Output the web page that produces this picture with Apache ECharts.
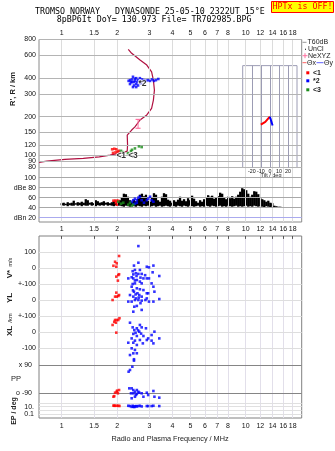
<!DOCTYPE html>
<html>
<head>
<meta charset="utf-8">
<script src="https://cdn.jsdelivr.net/npm/echarts@6/dist/echarts.min.js"></script>
<style>
html,body{margin:0;padding:0;background:#fff;}
#c{width:335px;height:451px;}
</style>
</head>
<body>
<div id="c"></div>
<script>
// ---- axis ticks ----
const freqTicks = [1, 1.5, 2, 3, 4, 5, 6, 7, 8, 10, 12, 14, 16, 18];
const freqTickLabels = ['1', '1.5', '2', '3', '4', '5', '6', '7', '8', '10', '12', '14', '16', '18'];
const heightTicks = [800, 600, 400, 300, 200, 150, 120, 100, 90, 80];
const dbTicks = [100, 80, 60, 40, 20];
const dbTickLabels = ['100', 'dBe 80', '60', '40', 'dBn 20'];
const velTicks = [100, 0, -100, -200, -300, -400, -500];
const velTickLabels = ['100', '0', '+-100', '0', '+-100', '0', '-100'];
const tiltTicks = [-20, -10, 0, 10, 20];
const ppTicks = [90, -90];
const ppTickLabels = ['x 90', 'o -90'];
const epTicks = [100, 10, 1, 0.1];
const epTickLabels = ['', '10.', '', '0.1'];

// stacked rows of the velocity panel (V*, YL, XL share one scale)
const ROW_V = 0, ROW_YL = -200, ROW_XL = -400;

// ---- electron density profile, [MHz, km] ----
const profile = [[0.753,87.7],[0.83,89.8],[1.04,92.6],[1.31,94.2],[1.6,97],[1.83,100],[2.03,103.1],[2.16,105],
  [2.27,107.5],[2.28,120],[2.27,143],[2.40,157],[2.50,166],[2.665,188],[2.90,206],[3.08,232],[3.15,269],
  [3.19,322],[3.15,385],[3.08,447],[2.90,505],[2.665,553],[2.40,624],[2.30,670]];
const neErrorBar = [[2.60,162],[2.60,190]];

// ---- echo virtual heights ----
const echo1Height = [[1.88,111],[1.93,112],[1.98,111],[1.90,104],[1.96,105],[2.01,106],[2.04,108]];
const echo2Height = [[2.31,380],[2.35,385],[2.35,359],[2.38,372],[2.41,390],[2.41,372],[2.44,409],[2.44,340],
  [2.47,372],[2.47,350],[2.50,380],[2.50,395],[2.54,399],[2.54,359],[2.54,340],[2.57,372],[2.60,385],[2.60,350],
  [2.66,399],[2.66,372],[2.70,365],[2.73,390],[2.80,385],[2.87,380],[2.94,385],[3.02,380],[3.10,390],[3.17,380],
  [3.25,385],[3.35,393]];
const echo3Height = [[2.10,108],[2.15,105.5],[2.29,103.7],[2.38,107.5],[2.41,110],[2.50,112.8],[2.63,117],[2.72,115.5]];
const echoTags = [{name:'<1', value:[2.106,98.6]}, {name:'*2', value:[2.75,361]}, {name:'<3', value:[2.44,98.3]}];

// ---- tilt, [deg, km] ----
const thetaX = [[-10,173],[-8,177],[-5,182],[-3,188],[-1,196],[0,199]];
const thetaY = [[0,199],[1,190],[2,180],[3,170]];

// ---- amplitudes, dB ----
const noiseStartMHz = 1.0, noiseStepLog = 0.0109;
const noiseHi = [49,50,48,51,49,50,54,49,51,50,52,50,57,55,50,51,49,55,53,50,51,53,50,51,49,51,53,50,52,55,
  60,68,67,62,55,52,56,53,58,66,68,63,66,54,52,60,69,66,55,52,62,69,67,56,54,50,55,52,56,62,
  54,57,53,59,55,64,58,53,50,55,52,57,60,65,62,64,58,60,63,70,68,60,57,62,59,63,58,62,66,72,
  79,77,75,68,62,66,73,72,67,60,57,55,52,54,50,49,44,43,42,42];
const noiseLo = [45,44,45,43,45,44,44,46,44,45,43,45,44,44,46,44,45,43,45,44,45,44,46,44,45,44,43,45,44,44,
  43,42,44,43,42,44,43,42,44,43,42,44,43,44,42,43,44,42,43,44,42,43,44,43,42,44,43,42,44,43,
  42,44,43,42,44,43,42,43,44,42,43,42,44,43,42,44,43,42,43,44,42,43,42,44,43,42,43,44,42,43,
  42,43,44,42,43,42,44,43,42,43,42,41,43,42,41,42,40,40,40,41];
const echo1Db = [[1.91,54],[1.95,54],[1.99,54],[2.03,54],[1.97,50],[1.99,46]];
const echo2Db = [[2.40,52],[2.45,55],[2.50,58],[2.56,55],[2.61,60],[2.66,62],[2.72,55],[2.56,50],[2.50,48],
  [2.90,55],[2.95,58],[3.02,62],[3.08,55],[3.15,52],[2.80,50],[2.45,47]];
const echo3Db = [[2.03,52],[2.10,48],[2.16,50],[2.30,46],[2.40,44],[2.45,46],[2.35,50]];

// ---- velocities, m/s, and spatial offsets, km ----
const echo1V = [[2.05,75],[1.95,39],[1.99,29],[1.91,14],[1.98,8],[2.03,-44],[1.98,-54],[2.05,-39],[2.02,-79]];
const echo1YL = [[1.98,46],[2.05,31],[1.99,21],[1.95,21],[2.03,25],[1.89,0]];
const echo1XL = [[1.95,75],[1.99,75],[2.03,75],[2.06,86],[1.93,64],[1.89,44],[1.97,58],[1.98,-4]];
const echo2V = [[2.61,137],[2.47,15],[2.61,33],[2.90,8],[2.98,4],[3.15,15],[2.50,-12],[2.66,-12],[2.53,-33],
  [2.40,-58],[2.45,-65],[2.61,-37],[2.72,-37],[2.78,-65],[2.90,-65],[2.98,-65],[3.12,-27],[3.39,-50],
  [2.30,-65],[2.56,-75],[2.66,-85],[2.45,-40],[2.55,-50],[2.68,-60],[2.50,-78],[2.43,-20],[2.84,-45]];
const echo2YL = [[2.43,100],[2.50,104],[2.72,104],[3.08,104],[3.15,83],[2.40,83],[2.56,73],[2.66,67],[2.78,62],
  [2.90,42],[2.47,52],[2.58,42],[2.35,31],[2.45,21],[2.53,10],[2.64,31],[2.72,21],[2.95,42],[3.19,52],
  [2.30,-10],[2.40,-10],[2.50,0],[2.61,0],[2.72,-4],[2.90,10],[2.98,-10],[3.15,-10],[3.39,6],[2.48,-42],
  [2.56,-37],[2.72,-62],[2.45,-73],[2.52,35],[2.62,15],[2.44,60],[2.68,-20],[2.85,0]];
const echo2XL = [[2.35,58],[2.43,29],[2.48,12],[2.56,23],[2.66,44],[2.72,29],[2.87,23],[2.64,2],[2.45,-12],
  [2.56,-25],[2.78,-25],[2.95,-40],[3.08,-19],[3.19,2],[2.40,-40],[2.50,-54],[2.66,-50],[2.90,-50],
  [2.30,-67],[2.45,-67],[2.56,-81],[2.76,-71],[3.15,-71],[3.08,-54],[3.39,-40],[2.40,-102],[2.50,-112],
  [2.56,-133],[2.35,-144],[2.60,10],[2.52,-5],[2.70,-10]];

// ---- polarization and ellipticity, deg ----
const echo1PP = [[1.91,-114],[1.93,-110],[1.95,-88],[1.99,-82],[2.00,-75],[2.02,-92],[2.05,-71]];
const echo1EP = [[1.91,20],[1.93,18],[1.95,18],[1.99,18],[2.03,18],[2.06,16]];
const echo2PP = [[2.33,-60],[2.40,-60],[2.45,-71],[2.50,-82],[2.38,-92],[2.45,-92],[2.56,-96],[2.64,-88],
  [2.72,-92],[2.90,-88],[2.95,-103],[3.15,-77],[3.19,-114],[3.39,-120],[2.50,-114],[2.40,-124],[2.78,-114],
  [2.53,-103],[2.61,-82],[2.56,-71],[2.45,165],[2.47,127],[2.42,79],[2.35,58],[2.31,47],[2.47,118]];
const echo2EP = [[2.30,18],[2.35,15],[2.43,18],[2.50,12],[2.56,12],[2.61,15],[2.66,18],[2.72,12],[2.90,15],
  [2.95,15],[3.08,15],[3.15,18],[3.39,15],[2.45,10],[2.53,15],[2.40,9],[2.48,8]];

// ---- drawing ----
const F_MIN = 0.7526, F_MAX = 20.15;
const LEFT = 39, WIDTH = 262.7;
const TXT = 'Liberation Sans, Arial, sans-serif';
const RED = '#ff0000', BLUE = '#0000ff', GREEN = '#1a8c1a';

const chart = echarts.init(document.getElementById('c'), null, {renderer: 'canvas', width: 335, height: 451});

const grids = [
  {left: LEFT, top: 39.5, width: WIDTH, height: 182.5, show: true, borderColor: '#8a8a8a', borderWidth: 1}, // 0 upper box
  {left: LEFT, top: 39.5, width: WIDTH, height: 128},                                                    // 1 height
  {left: LEFT, top: 177.7, width: WIDTH, height: 44.3},                                                  // 2 amplitude
  {left: 242.7, top: 65.63, width: 54.3, height: 101.87, show: true, borderColor: '#9c9cb4', borderWidth: 1}, // 3 tilt
  {left: LEFT, top: 236, width: WIDTH, height: 182, show: true, borderColor: '#808080', borderWidth: 1}, // 4 lower box
  {left: LEFT, top: 236, width: WIDTH, height: 122},                                                     // 5 velocity
  {left: LEFT, top: 349, width: WIDTH, height: 50},                                                      // 6 PP
  {left: LEFT, top: 399, width: WIDTH, height: 19}                                                       // 7 EP
];
const logF = g => ({type: 'log', logBase: 10, gridIndex: g, min: F_MIN, max: F_MAX, show: false});
const xAxes = [logF(0), logF(1), logF(2), {type: 'value', gridIndex: 3, min: -30, max: 30, show: false},
  logF(4), logF(5), logF(6), logF(7)];
const yAxes = [
  {type: 'value', gridIndex: 0, min: 0, max: 1, show: false},
  {type: 'log', logBase: 10, gridIndex: 1, min: 80, max: 800, show: false},
  {type: 'value', gridIndex: 2, min: 11.4, max: 100, show: false},
  {type: 'log', logBase: 10, gridIndex: 3, min: 80, max: 500, show: false},
  {type: 'value', gridIndex: 4, min: 0, max: 1, show: false},
  {type: 'value', gridIndex: 5, min: -562.5, max: 200, show: false},
  {type: 'value', gridIndex: 6, min: -128.57, max: 192.86, show: false},
  {type: 'log', logBase: 10, gridIndex: 7, min: 0.00802, max: 1287.6, show: false}
];

const tickFont = {fontFamily: TXT, fontSize: 7, color: '#111'};
function gridLines(g, key, values, labels, color, pos, dist, fontSize) {
  return {
    type: 'line', xAxisIndex: g, yAxisIndex: g, data: [], silent: true, z: 1,
    markLine: {
      silent: true, symbol: ['none', 'none'], animation: false,
      lineStyle: {color: color, width: 1, type: 'solid'},
      label: Object.assign({show: !!labels, position: pos, distance: dist, formatter: p => p.name}, tickFont,
        fontSize ? {fontSize: fontSize} : {}),
      data: values.map((v, i) => ({[key]: v, name: labels ? labels[i] : ''}))
    }
  };
}
function shiftRows(rows, off) { return rows.map(p => [p[0], p[1] + off]); }
function dots(g, data, color, z) {
  return {type: 'scatter', xAxisIndex: g, yAxisIndex: g, data: data, symbol: 'rect', symbolSize: 2.6,
    itemStyle: {color: color}, z: z || 5, silent: true};
}

const series = [
  // frequency grid, upper box
  gridLines(0, 'xAxis', freqTicks, freqTickLabels, '#dcdcdc', 'end', 3),
  gridLines(0, 'xAxis', freqTicks, freqTickLabels, 'rgba(0,0,0,0)', 'start', 3.8),
  // height grid
  gridLines(1, 'yAxis', heightTicks, heightTicks.map(String), '#b4b4b4', 'start', 3),
  // amplitude grid
  gridLines(2, 'yAxis', dbTicks.slice(0, 4), dbTickLabels.slice(0, 4), '#a8a8a8', 'start', 3),
  gridLines(2, 'yAxis', [20], ['dBn 20'], '#aaaaee', 'start', 3),
  // tilt inset
  gridLines(3, 'xAxis', tiltTicks, tiltTicks.map(String), '#9c9cb4', 'start', 1.5, 5.3),
  // lower box: frequency grid, labels and top ticks
  gridLines(4, 'xAxis', freqTicks, freqTickLabels, '#e2dfea', 'start', 4.5),
  {type: 'line', xAxisIndex: 4, yAxisIndex: 4, data: [], silent: true, z: 2,
    markLine: {silent: true, symbol: ['none', 'none'], animation: false, label: {show: false},
      lineStyle: {color: '#555', width: 1, type: 'solid'},
      data: freqTicks.map(f => [{coord: [f, 1]}, {coord: [f, 0.984]}])}},
  gridLines(5, 'yAxis', velTicks, velTickLabels, '#dedede', 'start', 3),
  gridLines(6, 'yAxis', ppTicks, ppTickLabels, '#858585', 'start', 7),
  gridLines(7, 'yAxis', epTicks, epTickLabels, '#e0e0e0', 'start', 5),

  // density profile
  {type: 'line', xAxisIndex: 1, yAxisIndex: 1, data: profile, symbol: 'none', silent: true, z: 4,
    lineStyle: {color: '#b01040', width: 1.2}},
  {type: 'line', xAxisIndex: 1, yAxisIndex: 1, data: neErrorBar, symbol: 'rect', symbolSize: [5, 1.2],
    itemStyle: {color: '#ff70a0'}, lineStyle: {color: '#ff70a0', width: 1}, silent: true, z: 4},
  dots(1, echo1Height, RED), dots(1, echo2Height, BLUE), dots(1, echo3Height, GREEN),
  {type: 'scatter', xAxisIndex: 1, yAxisIndex: 1, data: echoTags, symbolSize: 0, silent: true, z: 6,
    label: {show: true, position: 'inside', formatter: p => p.name, fontFamily: TXT, fontSize: 8.5,
      fontWeight: 'bold', color: '#000', textBorderColor: '#fff', textBorderWidth: 1.5}},

  // tilt
  {type: 'line', xAxisIndex: 3, yAxisIndex: 3, data: thetaX, symbol: 'none', silent: true, z: 5,
    lineStyle: {color: RED, width: 2}},
  {type: 'line', xAxisIndex: 3, yAxisIndex: 3, data: thetaY, symbol: 'none', silent: true, z: 5,
    lineStyle: {color: BLUE, width: 2}},

  // noise trace
  {type: 'custom', xAxisIndex: 2, yAxisIndex: 2, silent: true, z: 4,
    data: noiseHi.map((h, i) => [Math.pow(10, Math.log10(noiseStartMHz) + i * noiseStepLog), noiseLo[i], h]),
    encode: {x: 0, y: [1, 2]},
    renderItem: function (params, api) {
      const a = api.coord([api.value(0), api.value(1)]);
      const b = api.coord([api.value(0), api.value(2)]);
      return {type: 'line', shape: {x1: a[0], y1: a[1], x2: b[0], y2: b[1]},
        style: {stroke: '#000', lineWidth: 2.3}};
    }},
  dots(2, echo1Db, RED), dots(2, echo2Db, BLUE), dots(2, echo3Db, GREEN),

  // velocities and offsets
  dots(5, shiftRows(echo1V, ROW_V), RED), dots(5, shiftRows(echo1YL, ROW_YL), RED), dots(5, shiftRows(echo1XL, ROW_XL), RED),
  dots(5, shiftRows(echo2V, ROW_V), BLUE), dots(5, shiftRows(echo2YL, ROW_YL), BLUE), dots(5, shiftRows(echo2XL, ROW_XL), BLUE),

  // polarization / ellipticity
  dots(6, echo1PP, RED), dots(6, echo2PP, BLUE),
  dots(7, echo1EP, RED), dots(7, echo2EP, BLUE)
];

const mono = 'DejaVu Sans Mono, monospace';
const lg = {font: '7px ' + TXT, fill: '#222', verticalAlign: 'middle', align: 'left'};
const lgBold = Object.assign({}, lg, {font: 'bold 7px ' + TXT});
const graphic = [
  {type: 'text', x: 35, y: 12.3, style: {text: 'TROMSO NORWAY   DYNASONDE 25-05-10 2322UT 15°E', font: '8.3px ' + mono, fill: '#000', verticalAlign: 'middle'}},
  {type: 'text', x: 56.7, y: 20.3, style: {text: '8pBP6It DoY= 130.973 File= TR702985.BPG', font: '8.3px ' + mono, fill: '#000', verticalAlign: 'middle'}},
  {type: 'rect', shape: {x: 271.5, y: 1.5, width: 62, height: 11}, style: {fill: '#ffff00', stroke: '#ff0000', lineWidth: 1}},
  {type: 'text', x: 302.5, y: 7.3, style: {text: 'HPTx is OFF!', font: '8.3px ' + mono, fill: '#ff0000', align: 'center', verticalAlign: 'middle'}},

  // legend
  {type: 'line', shape: {x1: 302.5, y1: 42.3, x2: 306.5, y2: 42.3}, style: {stroke: '#999', lineWidth: 1}},
  {type: 'text', x: 307.5, y: 42.5, style: Object.assign({}, lg, {text: 'T60dB'})},
  {type: 'rect', shape: {x: 305, y: 48.8, width: 1, height: 1}, style: {fill: '#000'}},
  {type: 'text', x: 308, y: 49.5, style: Object.assign({}, lg, {text: 'UnCl'})},
  {type: 'line', shape: {x1: 302.5, y1: 55.7, x2: 307.5, y2: 55.7}, style: {stroke: '#ff70a0', lineWidth: 1}},
  {type: 'line', shape: {x1: 305, y1: 53.2, x2: 305, y2: 58.2}, style: {stroke: '#ff70a0', lineWidth: 1}},
  {type: 'text', x: 308, y: 56, style: Object.assign({}, lg, {text: 'NeXYZ'})},
  {type: 'line', shape: {x1: 302.5, y1: 62.7, x2: 306.5, y2: 62.7}, style: {stroke: '#ff6060', lineWidth: 1}},
  {type: 'text', x: 307, y: 63, style: Object.assign({}, lg, {text: 'Θx'})},
  {type: 'line', shape: {x1: 316.5, y1: 62.7, x2: 323.5, y2: 62.7}, style: {stroke: '#6060ff', lineWidth: 1}},
  {type: 'text', x: 324, y: 63, style: Object.assign({}, lg, {text: 'Θy'})},
  {type: 'rect', shape: {x: 306.3, y: 71.3, width: 3, height: 3}, style: {fill: RED}},
  {type: 'text', x: 313, y: 73, style: Object.assign({}, lgBold, {text: '<1'})},
  {type: 'rect', shape: {x: 306.3, y: 79.3, width: 3, height: 3}, style: {fill: BLUE}},
  {type: 'text', x: 313, y: 81, style: Object.assign({}, lgBold, {text: '*2'})},
  {type: 'rect', shape: {x: 306.3, y: 88.3, width: 3, height: 3}, style: {fill: GREEN}},
  {type: 'text', x: 313, y: 90, style: Object.assign({}, lgBold, {text: '<3'})},

  // axis titles
  {type: 'text', x: 13, y: 89, rotation: Math.PI / 2, style: {text: "R', R / km", font: 'bold 7.5px ' + TXT, fill: '#222', align: 'center', verticalAlign: 'middle'}},
  {type: 'text', x: 271, y: 175.5, style: {text: 'Tilt / deg', font: '5.5px ' + TXT, fill: '#222', align: 'center', verticalAlign: 'middle'}},
  {type: 'text', x: 10, y: 268, rotation: Math.PI / 2, style: {text: '{a|V*} {b|m/s}', fill: '#222', align: 'center', verticalAlign: 'middle',
    rich: {a: {font: 'bold 8px ' + TXT, fill: '#222'}, b: {font: '5.5px ' + TXT, fill: '#222'}}}},
  {type: 'text', x: 10, y: 298, rotation: Math.PI / 2, style: {text: 'YL', font: 'bold 8px ' + TXT, fill: '#222', align: 'center', verticalAlign: 'middle'}},
  {type: 'text', x: 10, y: 318, rotation: Math.PI / 2, style: {text: '/km', font: '6px ' + TXT, fill: '#222', align: 'center', verticalAlign: 'middle'}},
  {type: 'text', x: 10, y: 331, rotation: Math.PI / 2, style: {text: 'XL', font: 'bold 8px ' + TXT, fill: '#222', align: 'center', verticalAlign: 'middle'}},
  {type: 'text', x: 16, y: 379, style: {text: 'PP', font: '7.5px ' + TXT, fill: '#222', align: 'center', verticalAlign: 'middle'}},
  {type: 'text', x: 14, y: 411, rotation: Math.PI / 2, style: {text: 'EP / deg', font: 'bold 7px ' + TXT, fill: '#222', align: 'center', verticalAlign: 'middle'}},
  {type: 'text', x: 170, y: 439, style: {text: 'Radio and Plasma Frequency / MHz', font: '7.3px ' + TXT, fill: '#222', align: 'center', verticalAlign: 'middle'}}
];

chart.setOption({
  animation: false,
  backgroundColor: '#fff',
  grid: grids,
  xAxis: xAxes,
  yAxis: yAxes,
  series: series,
  graphic: graphic
});
</script>
</body>
</html>
